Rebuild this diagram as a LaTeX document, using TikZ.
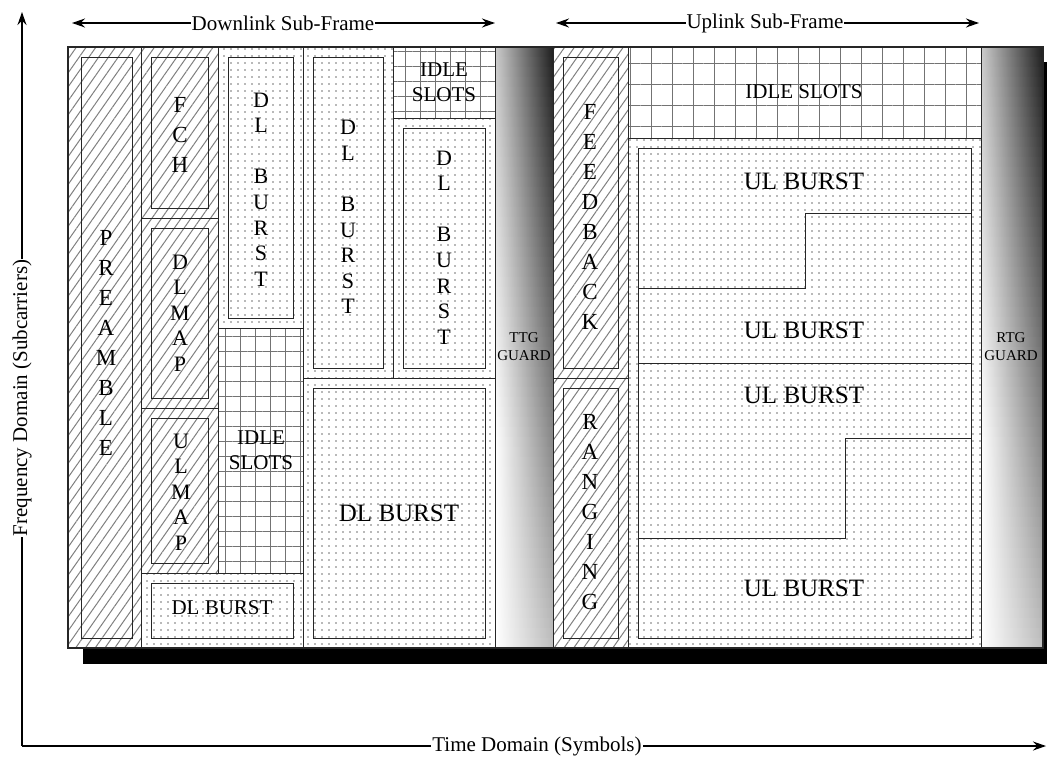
\documentclass[tikz,border=0pt]{standalone}
\usepackage{fontspec}
\setmainfont{Liberation Serif}
\usetikzlibrary{patterns.meta,arrows.meta}
\tikzset{
  box/.style={draw=black!85, line width=1pt},
  hatchfill/.style={pattern={Lines[angle=55,distance=8pt,line width=1pt]}, pattern color=black!50},
  dotfill/.style={pattern={Dots[distance=7pt,radius=0.9pt]}, pattern color=black!55},
  gridfill/.style={pattern={Hatch[angle=0,distance=15pt,line width=0.8pt]}, pattern color=black!55},
  gridfillB/.style={pattern={Hatch[angle=0,distance=21pt,line width=0.8pt]}, pattern color=black!55},
  stackA/.style={align=center, inner sep=0pt, font=\fontsize{23}{30}\selectfont},
  stackB/.style={align=center, inner sep=0pt, font=\fontsize{22}{25.6}\selectfont},
  bigtxt/.style={inner sep=0pt, font=\fontsize{25}{30}\selectfont},
  midtxt/.style={align=center, inner sep=0pt, font=\fontsize{21}{25}\selectfont},
  smalltxt/.style={align=center, inner sep=0pt, font=\fontsize{15}{18}\selectfont},
  axlab/.style={fill=white, inner sep=1pt, font=\fontsize{21}{24}\selectfont},
  axis/.style={line width=1.3pt, -{Stealth[length=13pt,width=9pt]}},
  span/.style={line width=1.3pt, {Stealth[length=13pt,width=9pt]}-{Stealth[length=13pt,width=9pt]}},
}
% guard shading built from thin horizontal strips
\newcommand\guardshade[2]{%
  \begin{scope}
    \clip (#1,47) rectangle (#2,648);
    \foreach \gdI in {0,...,59} {
      \pgfmathsetmacro\gdFr{\gdI/59}
      \pgfmathsetmacro\gdLc{max(0,20-30*\gdFr)}
      \pgfmathsetmacro\gdRc{88-62*\gdFr}
      \shade[left color=black!\gdLc, right color=black!\gdRc]
        (#1,{47+\gdI*10.02}) rectangle (#2,{47+(\gdI+1)*10.02+0.6});
    }
  \end{scope}%
}
\begin{document}
\begin{tikzpicture}[x=1pt,y=-1pt]
\useasboundingbox (0,0) rectangle (1047,756);

% shadow and frame background
\fill[black] (83,62) rectangle (1047,664);
\fill[white] (68,47) rectangle (1043,648);

% ---------------- Downlink ----------------
% preamble column
\draw[box, hatchfill] (68,47) rectangle (141,648);
\draw[box] (81,57) rectangle (132,638);
% FCH / DLMAP / ULMAP
\draw[box, hatchfill] (141,47) rectangle (218,218);
\draw[box] (151,57) rectangle (208,208);
\draw[box, hatchfill] (141,218) rectangle (218,408);
\draw[box] (151,228) rectangle (208,398);
\draw[box, hatchfill] (141,408) rectangle (218,573);
\draw[box] (151,418) rectangle (208,563);
% bottom DL burst
\draw[box, dotfill] (141,573) rectangle (303,648);
\draw[box] (151,583) rectangle (293,638);
% column 3
\draw[box, dotfill] (218,47) rectangle (303,328);
\draw[box] (228,57) rectangle (293,318);
\draw[box, gridfill] (218,328) rectangle (303,573);
% column 4
\draw[box, dotfill] (303,47) rectangle (393,378);
\draw[box] (313,57) rectangle (383,368);
% column 5
\draw[box, gridfill] (393,47) rectangle (495,118);
\draw[box, dotfill] (393,118) rectangle (495,378);
\draw[box] (403,128) rectangle (485,368);
% big DL burst
\draw[box, dotfill] (303,378) rectangle (495,648);
\draw[box] (313,388) rectangle (485,638);

% TTG guard
\guardshade{495}{553}
\draw[box] (495,47) rectangle (553,648);

% ---------------- Uplink ----------------
\draw[box, hatchfill] (553,47) rectangle (628,378);
\draw[box] (563,57) rectangle (618,368);
\draw[box, hatchfill] (553,378) rectangle (628,648);
\draw[box] (563,388) rectangle (618,638);
\draw[box, gridfillB] (628,47) rectangle (981,138);
\draw[box, dotfill] (628,138) rectangle (981,648);
\draw[box] (638,148) rectangle (971,638);
\coordinate (s1a) at (638,288); \coordinate (s1b) at (805,288);
\coordinate (s1c) at (805,213); \coordinate (s1d) at (971,213);
\draw[box] (s1a) -- (s1b) -- (s1c) -- (s1d);
\coordinate (s2a) at (638,363); \coordinate (s2b) at (971,363);
\draw[box] (s2a) -- (s2b);
\coordinate (s3a) at (638,538); \coordinate (s3b) at (845,538);
\coordinate (s3c) at (845,438); \coordinate (s3d) at (971,438);
\draw[box] (s3a) -- (s3b) -- (s3c) -- (s3d);

% RTG guard
\guardshade{981}{1043}
\draw[box] (981,47) rectangle (1043,648);

% outer frame
\draw[line width=1.4pt, black!85] (68,47) rectangle (1043,648);

% ---------------- Labels ----------------
\node[stackA] (pre) at (106,342.5) {P\\R\\E\\A\\M\\B\\L\\E};
\node[stackA] (fch) at (180,135) {F\\C\\H};
\node[stackB] (dlmap) at (180,313) {D\\L\\M\\A\\P};
\node[stackB] (ulmap) at (181,492) {U\\L\\M\\A\\P};
\node[stackB] (dlb3) at (261,189.5) {D\\L\\\mbox{}\\B\\U\\R\\S\\T};
\node[stackB] (dlb4) at (348,217) {D\\L\\\mbox{}\\B\\U\\R\\S\\T};
\node[stackB] (dlb5) at (444,247.5) {D\\L\\\mbox{}\\B\\U\\R\\S\\T};
\node[midtxt] (idle5) at (444,82.5) {IDLE\\SLOTS};
\node[midtxt] (idle3) at (261,450) {IDLE\\SLOTS};
\node[midtxt] (dlbb) at (222,608) {DL BURST};
\node[bigtxt] (dlbig) at (399,513) {DL BURST};
\node[smalltxt] (ttg) at (524,347) {TTG\\GUARD};
\node[stackA] (feed) at (590,217) {F\\E\\E\\D\\B\\A\\C\\K};
\node[stackA] (rang) at (590,512.5) {R\\A\\N\\G\\I\\N\\G};
\node[midtxt] (idleU) at (804,92) {IDLE SLOTS};
\node[bigtxt] (ul1) at (804,181) {UL BURST};
\node[bigtxt] (ul2) at (804,330) {UL BURST};
\node[bigtxt] (ul3) at (804,395) {UL BURST};
\node[bigtxt] (ul4) at (804,588) {UL BURST};
\node[smalltxt] (rtg) at (1011,347) {RTG\\GUARD};

% ---------------- Sub-frame spans ----------------
\coordinate (dlL) at (72,23); \coordinate (dlR) at (495,23);
\draw[span] (dlL) -- (dlR);
\node[axlab] (dltxt) at (283,23) {Downlink Sub-Frame};
\coordinate (ulL) at (556,23); \coordinate (ulR) at (979,23);
\draw[span] (ulL) -- (ulR);
\node[axlab] (ultxt) at (765,23) {Uplink Sub-Frame};

% ---------------- Axes ----------------
\coordinate (origin) at (22,746);
\coordinate (ytip) at (22,12);
\coordinate (xtip) at (1046,746);
\draw[axis] (origin) -- (ytip);
\draw[axis] (origin) -- (xtip);
\node[axlab, rotate=90] (freq) at (22,398) {Frequency Domain (Subcarriers)};
\node[axlab] (time) at (537,746) {Time Domain (Symbols)};
\end{tikzpicture}
\end{document}
